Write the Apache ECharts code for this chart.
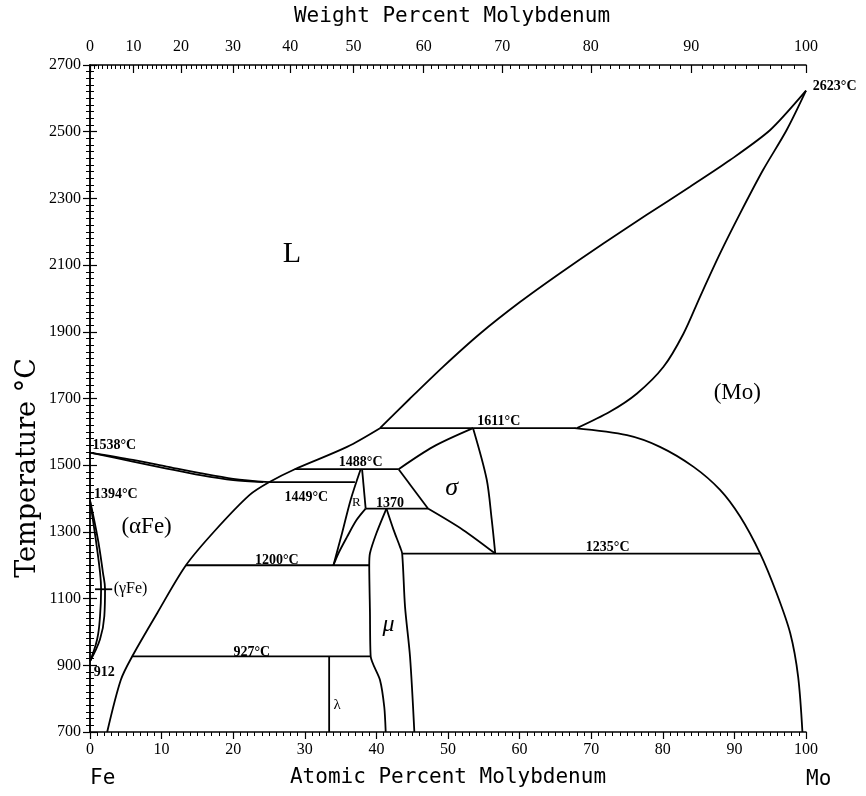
<!DOCTYPE html>
<html><head><meta charset="utf-8">
<script src="https://cdn.jsdelivr.net/npm/echarts@6/dist/echarts.min.js"></script>
<style>html,body{margin:0;padding:0;background:#fff}#c{width:866px;height:796px}</style>
</head><body><div id="c"></div>
<script>
// ---------- DATA (atomic % Mo, temperature °C) ----------
const weightTickLabels = [0,10,20,30,40,50,60,70,80,90,100];
const weightMinorSteps = [1,2,3,4,5,6,7,8,9,11,12,13,14,15,16,17,18,19,21,22,23,24,25,26,27,28,29,31,32,33,34,35,36,37,38,39,41,42,43,44,45,46,47,48,49,51,52,53,54,55,56,57,58,59,61,62,63,64,65,66,67,68,69,71,72,73,74,75,76,77,78,79,81,82,83,84,85,86,87,88,89,91,92,93,94,95,96,97,98,99];

const liquidusFe   = [[0,1538],[6.0,1516],[10.7,1496],[15.4,1476],[20.0,1459],[25.0,1449]];
const solidusFe    = [[0,1538],[6.0,1511],[10.7,1490],[15.4,1470],[20.0,1455],[24.2,1449]];
// (αFe) solvus continuing into the liquidus up to the 1611 °C peritectic
const solvusLiquidusLow = [[2.4,700],[4.3,856],[5.9,927],[9.4,1057],[13.4,1200],[17.5,1305],[22.3,1411],[25.0,1449],[28.6,1488],[35.9,1555],[40.5,1611]];
const liquidusHigh = [[40.5,1611],[44.7,1700],[49.3,1795],[54.5,1895],[60.1,1990],[65.6,2075],[71.7,2165],[77.7,2250],[83.8,2335],[89.4,2415],[95.0,2505],[100,2623]];
const solidusMo    = [[68.0,1611],[72.6,1660],[76.4,1715],[80.1,1795],[82.9,1895],[85.2,2005],[88.0,2135],[90.8,2255],[94.0,2385],[97.3,2505],[100,2623]];
const solvusMo     = [[67.7,1611],[75.0,1590],[79.6,1555],[84.3,1495],[88.0,1426],[90.8,1346],[93.6,1235],[95.9,1116],[97.8,996],[98.9,866],[99.5,700]];
const gammaOuter   = [[0,1394],[1.1,1278],[1.8,1179],[2.1,1128],[2.0,1047],[1.4,978],[0,912]];
const gammaInner   = [[0,1394],[0.8,1278],[1.4,1179],[1.55,1128],[1.4,1047],[1.0,978],[0,912]];
const gammaMarker  = [[0.7,1128],[3.1,1128]];
const iso1611 = [[40.5,1611],[67.8,1611]];
const iso1488 = [[28.6,1488],[43.1,1488]];
const iso1449 = [[25.0,1449],[37.0,1449]];
const iso1370 = [[38.5,1370],[47.2,1370]];
const iso1235 = [[43.6,1235],[93.6,1235]];
const iso1200 = [[13.4,1200],[39.0,1200]];
const iso927  = [[5.9,927],[39.2,927]];
const lambdaLine = [[33.4,927],[33.4,700]];
const rLeft   = [[37.8,1488],[36.4,1396],[35.2,1296],[34.0,1200]];
const rRight  = [[38.0,1488],[38.5,1370]];
const rLower  = [[38.5,1370],[37.2,1335],[35.9,1285],[34.7,1236],[34.0,1200]];
const sigmaLeftTop  = [[53.5,1611],[47.9,1555],[43.1,1488]];
const sigmaLeftMid  = [[43.1,1488],[47.2,1370]];
const sigmaLeftLow  = [[47.2,1370],[52.1,1306],[56.6,1235]];
const sigmaRight    = [[53.5,1611],[55.4,1458],[56.1,1338],[56.6,1235]];
const muLeft  = [[41.4,1370],[40.0,1296],[39.1,1236],[39.0,1200],[39.1,1060],[39.2,927],[40.5,856],[41.1,775],[41.3,700]];
const muRight = [[41.4,1370],[42.4,1306],[43.3,1255],[43.6,1235],[44.0,1075],[44.7,925],[45.3,700]];

const phaseLabels  = ['L','(Mo)','(αFe)','(γFe)','σ','R','μ','λ'];
const phaseLabelAt = [[28.2,2133],[90.4,1717],[7.9,1315],[3.3,1128],[50.5,1430],[37.2,1388],[41.7,1021],[34.5,781]];
const tempLabels   = ['1538°C','1394°C','912','2623°C','1611°C','1488°C','1449°C','1370','1200°C','927°C','1235°C'];
const tempLabelAt  = [[3.4,1558],[3.6,1411],[2.0,880],[104.0,2637],[57.1,1630],[37.8,1507],[30.2,1402],[41.9,1384],[26.1,1216],[22.6,940],[72.3,1255]];

// weight % -> atomic % (Fe 55.845, Mo 95.95)
function wtToAt(w){ const a=w/95.95, b=(100-w)/55.845; return 100*a/(a+b); }
const wtMajorAt = weightTickLabels.map(wtToAt);
const wtMinorAt = weightMinorSteps.map(wtToAt);

// ---------- STYLE ----------
const BLACK = '#000';
const lineW = 1.8;
const curves = [
  [liquidusFe,0.3],[solidusFe,0.3],[solvusLiquidusLow,0.3],[liquidusHigh,0.25],[solidusMo,0.3],[solvusMo,0.3],
  [gammaOuter,0.4],[gammaInner,0.4],[gammaMarker,false],
  [iso1611,false],[iso1488,false],[iso1449,false],[iso1370,false],[iso1235,false],[iso1200,false],[iso927,false],[lambdaLine,false],
  [rLeft,0.3],[rRight,false],[rLower,0.3],[sigmaLeftTop,0.3],[sigmaLeftMid,false],[sigmaLeftLow,0.3],[sigmaRight,0.3],
  [muLeft,0.25],[muRight,0.3]
];
const series = curves.map(([d,s]) => ({
  type:'line', data:d, smooth:s, showSymbol:false, symbol:'none', clip:false,
  lineStyle:{color:BLACK, width:lineW}, silent:true, animation:false
}));

const serif = '"Liberation Serif"';
const phaseFonts = [
  {font:'30px '+serif},
  {font:'23px '+serif},
  {font:'23px '+serif},
  {font:'16px '+serif, align:'left'},
  {font:'italic 26px '+serif},
  {font:'13px '+serif},
  {font:'italic 24px '+serif},
  {font:'15px '+serif}
];

const axisLine = {show:true, lineStyle:{color:BLACK, width:1.5}};
const tickFont = {color:BLACK, fontFamily:'Liberation Serif', fontSize:16};
const option = {
  animation:false,
  backgroundColor:'#fff',
  grid:{left:90, right:60, top:65, bottom:64},
  xAxis:[
    {type:'value', position:'bottom', min:0, max:100, interval:10, axisLine,
     axisTick:{length:7, lineStyle:{color:BLACK, width:1.2}},
     minorTick:{show:true, splitNumber:10, length:4, lineStyle:{color:BLACK, width:1}},
     axisLabel:Object.assign({margin:10}, tickFont), splitLine:{show:false}},
    {type:'value', position:'top', min:0, max:100, axisLine,
     axisTick:{inside:true, length:8, customValues:wtMajorAt, lineStyle:{color:BLACK, width:1.2}},
     axisLabel:Object.assign({margin:10, customValues:wtMajorAt,
       formatter:(v)=>{ let k=0, best=1e9; wtMajorAt.forEach((p,i)=>{ if(Math.abs(p-v)<best){best=Math.abs(p-v);k=i;} }); return String(weightTickLabels[k]); }
     }, tickFont), splitLine:{show:false}},
    {type:'value', position:'top', min:0, max:100, axisLine:{show:false},
     axisTick:{inside:true, length:4, customValues:wtMinorAt, lineStyle:{color:BLACK, width:1}},
     axisLabel:{show:false}, splitLine:{show:false}}
  ],
  yAxis:[
    {type:'value', position:'left', min:700, max:2700, interval:200, axisLine,
     axisTick:{length:7, lineStyle:{color:BLACK, width:1.2}},
     minorTick:{show:true, splitNumber:10, length:4, lineStyle:{color:BLACK, width:1}},
     axisLabel:Object.assign({margin:9, formatter:(v)=>String(v)}, tickFont), splitLine:{show:false}},
    {type:'value', position:'right', min:700, max:2700, interval:200, axisLine,
     axisTick:{length:7, lineStyle:{color:BLACK, width:1.2}},
     minorTick:{show:true, splitNumber:10, length:4, lineStyle:{color:BLACK, width:1}},
     axisLabel:{show:false}, splitLine:{show:false}}
  ],
  series
};
const chart = echarts.init(document.getElementById('c'), null, {renderer:'canvas'});
chart.setOption(option);

// text annotations placed through the chart's own coordinate system
const toPx = (p) => chart.convertToPixel({xAxisIndex:0, yAxisIndex:0}, p);
const graphics = [
  {type:'text', x:452, y:17, style:{text:'Weight Percent Molybdenum', font:'21px "DejaVu Sans Mono"', fill:BLACK, align:'center', verticalAlign:'middle'}},
  {type:'text', x:448, y:778, style:{text:'Atomic Percent Molybdenum', font:'21px "DejaVu Sans Mono"', fill:BLACK, align:'center', verticalAlign:'middle'}},
  {type:'text', x:90, y:779, style:{text:'Fe', font:'21px "DejaVu Sans Mono"', fill:BLACK, align:'left', verticalAlign:'middle'}},
  {type:'text', x:806, y:780, style:{text:'Mo', font:'21px "DejaVu Sans Mono"', fill:BLACK, align:'left', verticalAlign:'middle'}},
  {type:'text', x:28, y:468, rotation:Math.PI/2, style:{text:'Temperature °C', font:'27px "DejaVu Serif"', fill:BLACK, align:'center', verticalAlign:'middle'}}
];
phaseLabels.forEach((t,i)=>{
  const p = toPx(phaseLabelAt[i]); const f = phaseFonts[i];
  graphics.push({type:'text', x:p[0], y:p[1], style:{text:t, font:f.font, fill:BLACK, align:f.align||'center', verticalAlign:'middle'}});
});
tempLabels.forEach((t,i)=>{
  const p = toPx(tempLabelAt[i]);
  graphics.push({type:'text', x:p[0], y:p[1], style:{text:t, font:'bold 14px '+serif, fill:BLACK, align:'center', verticalAlign:'middle'}});
});
chart.setOption({graphic:graphics});
</script></body></html>
